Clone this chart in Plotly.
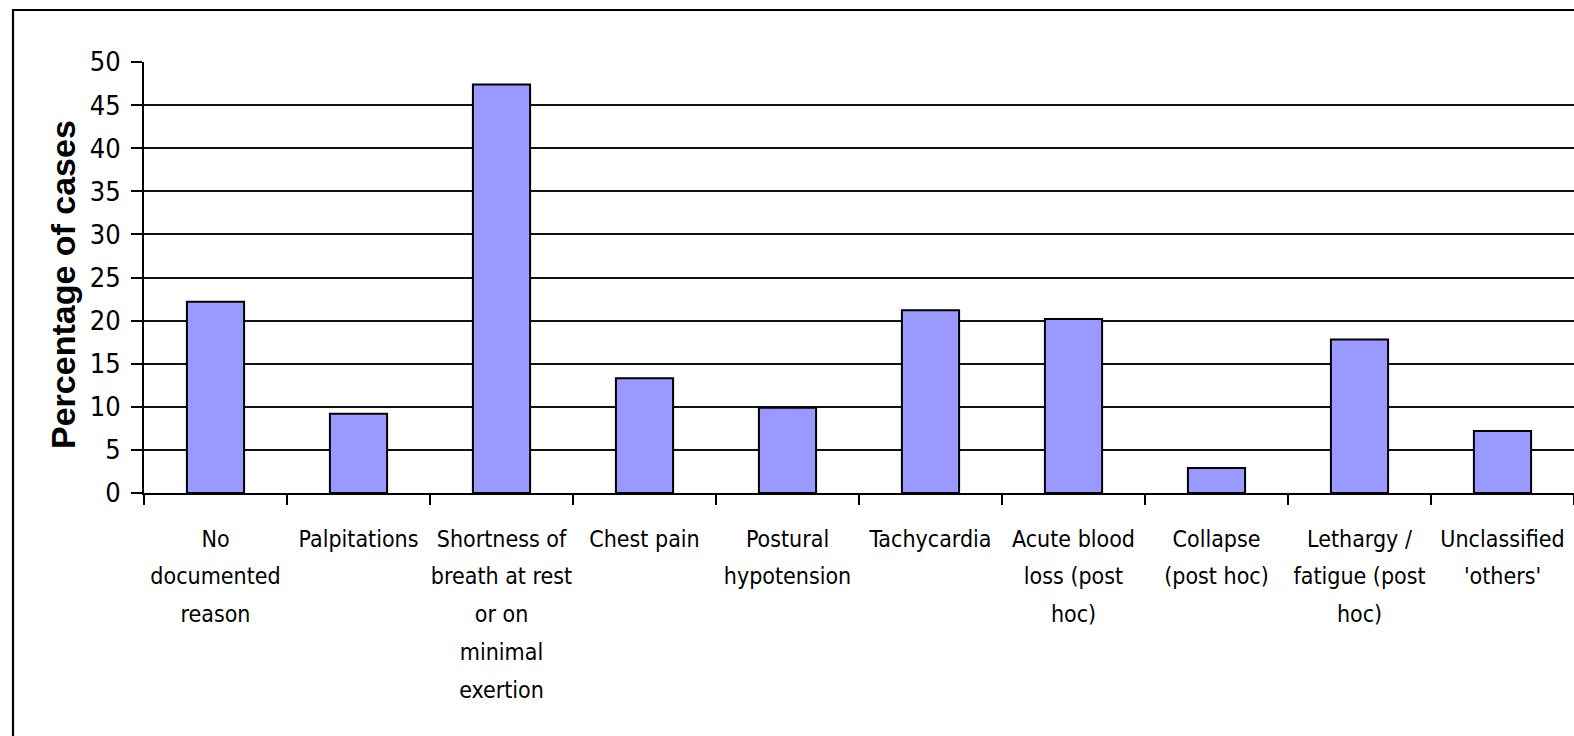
import plotly.graph_objects as go

categories = [
    "No<br>documented<br>reason",
    "Palpitations",
    "Shortness of<br>breath at rest<br>or on<br>minimal<br>exertion",
    "Chest pain",
    "Postural<br>hypotension",
    "Tachycardia",
    "Acute blood<br>loss (post<br>hoc)",
    "Collapse<br>(post hoc)",
    "Lethargy /<br>fatigue (post<br>hoc)",
    "Unclassified<br>'others'",
]
values = [22.2, 9.2, 47.4, 13.3, 9.9, 21.2, 20.2, 2.9, 17.8, 7.2]
y_ticks = [0, 5, 10, 15, 20, 25, 30, 35, 40, 45, 50]
y_title = "Percentage of cases"

NARROW = "Liberation Sans Narrow, Arial Narrow, DejaVu Sans Condensed, sans-serif"
GLYPH_PX = 23  # visible glyph size inside the taller line box


def styled(label):
    return "<br>".join(
        f"<span style='font-size:{GLYPH_PX}px'>{part}</span>" for part in label.split("<br>")
    )


fig = go.Figure()
fig.add_trace(go.Bar(
    x=categories,
    y=values,
    width=0.4,
    marker=dict(color="#9999FF", line=dict(color="black", width=2)),
    hoverinfo="y",
))

W, H = 1574, 736
L, R, T, B = 144, 0, 62, 243
pw = W - L - R
ph = H - T - B

fig.update_layout(
    width=W, height=H,
    margin=dict(l=L, r=R, t=T, b=B, pad=0),
    paper_bgcolor="white",
    plot_bgcolor="white",
    showlegend=False,
    xaxis=dict(
        type="category",
        range=[-0.5, 9.5],
        tickson="boundaries",
        tickmode="array",
        tickvals=categories,
        ticktext=[styled(c) for c in categories],
        ticks="outside",
        ticklen=10,
        tickwidth=1.6,
        tickcolor="black",
        showline=True,
        linecolor="black",
        linewidth=1.8,
        showgrid=False,
        tickfont=dict(family=NARROW, size=29, color="black"),
        ticklabelstandoff=17,
        tickangle=0,
    ),
    yaxis=dict(
        range=[0, 50],
        tickvals=y_ticks,
        ticks="outside",
        ticklen=11,
        tickwidth=1.6,
        tickcolor="black",
        showline=True,
        linecolor="black",
        linewidth=1.8,
        showgrid=True,
        gridcolor="#111111",
        gridwidth=1.9,
        zeroline=False,
        tickfont=dict(family=NARROW, size=27, color="black"),
        ticklabelstandoff=5,
    ),
    annotations=[dict(
        text=y_title, textangle=-90,
        xref="paper", yref="paper",
        x=(63 - L) / pw, y=(H - B - 285) / ph,
        xanchor="center", yanchor="middle",
        showarrow=False,
        font=dict(family="Liberation Sans, Arial, sans-serif", size=34, color="black", weight="bold"),
    )],
    shapes=[dict(
        type="rect", xref="paper", yref="paper",
        x0=(13 - L) / pw, x1=1.05,
        y0=-0.7, y1=(H - B - 10) / ph,
        line=dict(color="black", width=2.2),
        fillcolor="rgba(0,0,0,0)",
        layer="below",
    )],
)

fig.write_html("out.html")
